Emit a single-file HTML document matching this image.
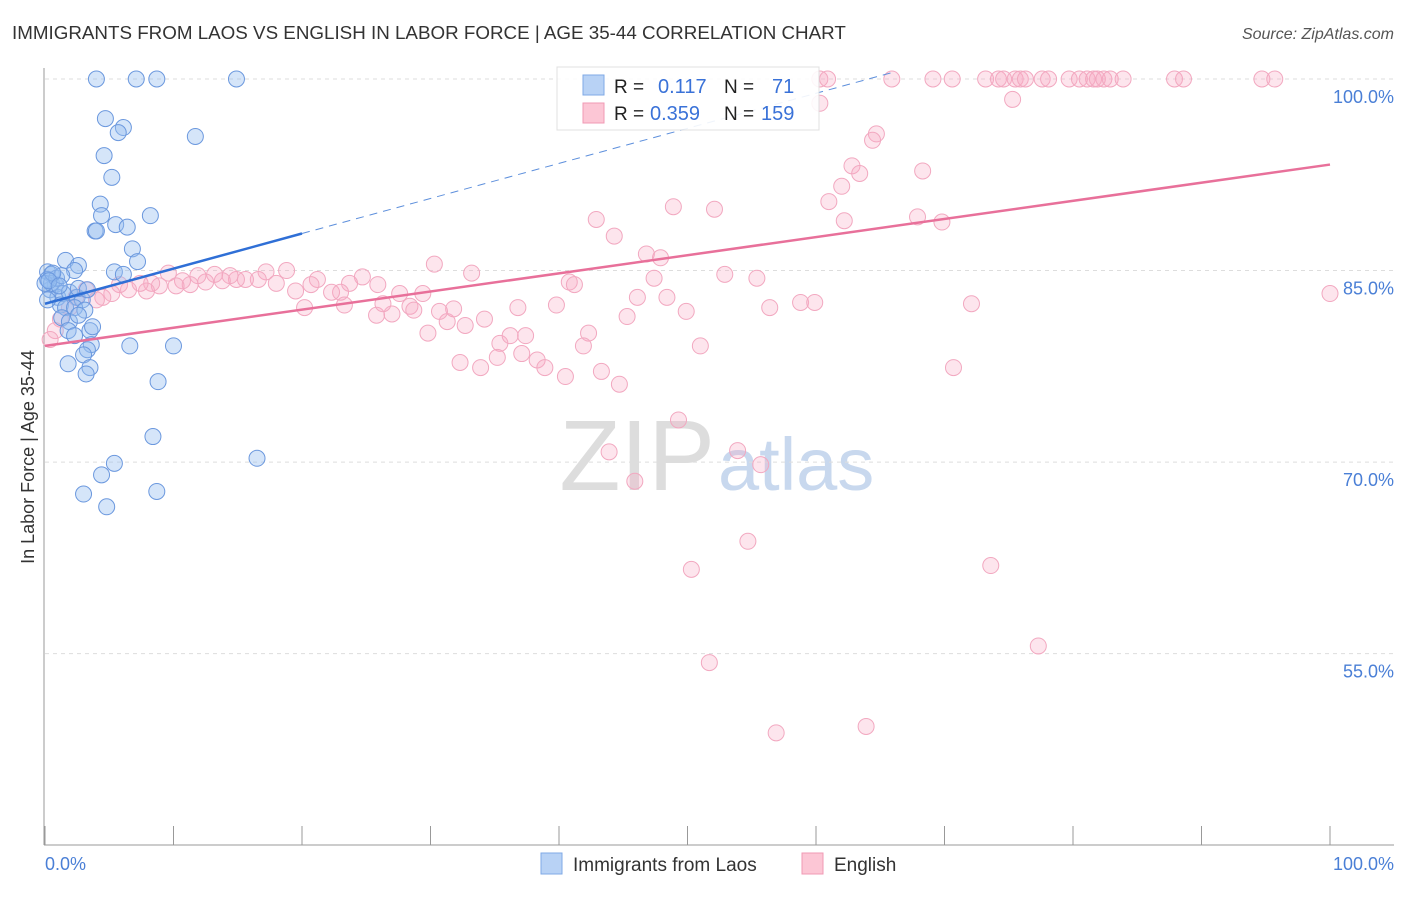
<!DOCTYPE html>
<html><head><meta charset="utf-8"><style>
body{margin:0;background:#fff;font-family:"Liberation Sans",sans-serif}
svg text{font-family:"Liberation Sans",sans-serif}
</style></head><body>
<svg id="chart" width="1406" height="892">
<text x="12" y="39" font-size="18.8" fill="#333">IMMIGRANTS FROM LAOS VS ENGLISH IN LABOR FORCE | AGE 35-44 CORRELATION CHART</text>
<text x="1394" y="39" font-size="16" fill="#555" font-style="italic" text-anchor="end">Source: ZipAtlas.com</text>
<text x="715" y="490" font-size="100" fill="#ddd" text-anchor="end" font-family="Liberation Serif">ZIP</text>
<text x="718" y="490" font-size="74" fill="#c8d8ee">atlas</text>
<g id="grid"></g><g id="axes"></g><g id="pts"></g><g id="trend"></g>
<text transform="translate(34,457) rotate(-90)" font-size="18" fill="#333" text-anchor="middle">In Labor Force | Age 35-44</text>
<text x="45" y="870" font-size="18" fill="#4a7fd6">0.0%</text>
<text x="1394" y="870" font-size="18" fill="#4a7fd6" text-anchor="end">100.0%</text>
<g>
<rect x="557" y="67" width="262" height="63" fill="#fff" stroke="#ddd" opacity="0.9"/>
<rect x="583" y="75" width="21" height="20" fill="#b8d2f5" stroke="#7fa9e6"/>
<rect x="583" y="103" width="21" height="20" fill="#fcc6d5" stroke="#f09ab4"/>
<text x="614" y="93" font-size="19" fill="#222">R = </text><text x="658" y="93" font-size="20" fill="#3a72d8">0.117</text>
<text x="724" y="93" font-size="19" fill="#222">N = </text><text x="772" y="93" font-size="20" fill="#3a72d8">71</text>
<text x="614" y="120" font-size="19" fill="#222">R = </text><text x="650" y="120" font-size="20" fill="#3a72d8">0.359</text>
<text x="724" y="120" font-size="19" fill="#222">N = </text><text x="761" y="120" font-size="20" fill="#3a72d8">159</text>
</g>
<g>
<rect x="541" y="853" width="21" height="21" fill="#b8d2f5" stroke="#7fa9e6"/>
<text x="573" y="871" font-size="19" fill="#333">Immigrants from Laos</text>
<rect x="802" y="853" width="21" height="21" fill="#fcc6d5" stroke="#f09ab4"/>
<text x="834" y="871" font-size="19" fill="#333">English</text>
</g>
</svg>
<script>
const yTicks=[100,85,70,55];
const yTickLabels=["100.0%","85.0%","70.0%","55.0%"];
const xTicks=[0,10,20,30,40,50,60,70,80,90,100];
const blueX=[4.0,7.1,8.7,14.9,4.7,6.1,5.7,4.6,11.7,5.2,4.3,4.4,8.2,5.5,3.9,4.0,6.4,6.8,7.2,1.6,2.6,5.4,6.1,2.3,0.2,0.5,0.8,0.4,1.0,1.4,1.9,2.5,2.9,1.2,1.6,2.3,3.1,2.6,3.3,1.3,1.9,1.8,2.3,3.5,3.7,2.6,3.6,3.3,6.6,10.0,3.0,1.8,3.5,3.2,8.8,8.4,16.5,5.4,4.4,3.0,8.7,4.8,0.2,0.5,0,0.9,1.3,0.2,0.6,0.3,1.1];
const blueY=[100,100,100,100,96.9,96.2,95.8,94.0,95.5,92.3,90.2,89.3,89.3,88.6,88.1,88.1,88.4,86.7,85.7,85.8,85.4,84.9,84.7,85.0,84.9,84.7,83.9,83.5,82.9,83.2,83.3,82.9,82.7,82.3,82.1,82.1,81.9,83.6,83.5,81.3,81.0,80.3,79.9,80.3,80.6,81.5,79.2,78.8,79.1,79.1,78.4,77.7,77.4,76.9,76.3,72.0,70.3,69.9,69.0,67.5,67.7,66.5,84.3,84.0,84.0,84.4,84.6,82.7,84.8,84.2,83.8];
const pinkX=[60.3,60.9,65.9,69.1,70.6,73.2,74.2,74.6,75.5,75.9,76.3,77.6,78.1,79.7,80.5,81.1,81.6,81.9,82.4,82.9,83.9,87.9,88.6,94.7,95.7,60.3,75.3,64.7,64.4,62.8,63.4,62.0,68.3,61.0,62.2,48.9,52.1,42.9,44.3,67.9,69.8,46.8,47.9,30.3,33.2,47.4,52.9,55.4,40.8,41.2,46.1,48.4,49.9,45.3,56.4,58.8,59.9,72.1,100,39.8,36.8,42.3,41.9,51.0,34.2,32.7,31.3,31.8,30.7,29.8,28.4,28.7,27.0,25.8,26.3,27.6,29.4,25.9,24.7,23.7,23.0,22.3,21.2,20.7,20.2,23.3,19.5,18.8,18.0,17.2,16.6,15.6,14.9,14.4,13.8,13.2,12.5,11.9,11.3,10.7,10.2,9.6,8.9,8.3,7.9,7.4,6.5,5.8,5.2,4.5,4.0,3.2,2.4,1.9,1.2,0.8,0.4,35.4,36.2,37.4,35.2,32.3,33.9,37.1,38.3,38.9,40.5,43.3,44.7,70.7,49.3,43.9,53.9,55.7,45.9,54.7,50.3,73.6,77.3,51.7,56.9,63.9];
const pinkY=[100,100,100,100,100,100,100,100,100,100,100,100,100,100,100,100,100,100,100,100,100,100,100,100,100,98.1,98.4,95.7,95.2,93.2,92.6,91.6,92.8,90.4,88.9,90.0,89.8,89.0,87.7,89.2,88.8,86.3,86.0,85.5,84.8,84.4,84.7,84.4,84.1,83.9,82.9,82.9,81.8,81.4,82.1,82.5,82.5,82.4,83.2,82.3,82.1,80.1,79.1,79.1,81.2,80.7,81.0,82.0,81.8,80.1,82.2,81.9,81.6,81.5,82.4,83.2,83.2,83.9,84.5,84.0,83.3,83.3,84.3,83.9,82.1,82.3,83.4,85.0,84.0,84.9,84.3,84.3,84.3,84.6,84.2,84.7,84.1,84.6,83.9,84.2,83.8,84.8,83.8,84.0,83.4,84.0,83.5,83.9,83.2,82.9,82.7,83.5,82.9,82.1,81.2,80.3,79.6,79.3,79.9,79.9,78.2,77.8,77.4,78.5,78.0,77.4,76.7,77.1,76.1,77.4,73.3,70.8,70.9,69.8,68.5,63.8,61.6,61.9,55.6,54.3,48.8,49.3];
const blueTrend=[[0,82.4],[20,87.9]];
const blueDash=[[20,87.9],[65.9,100.5]];
const pinkTrend=[[0,79.1],[100,93.3]];
const NS="http://www.w3.org/2000/svg";
const sx=v=>45+v*12.85, sy=v=>79+(100-v)*12.77;
function mk(tag,attrs,parent){const e=document.createElementNS(NS,tag);for(const k in attrs)e.setAttribute(k,attrs[k]);document.getElementById(parent).appendChild(e);return e;}
yTicks.forEach((t,i)=>{
 const l=mk('line',{x1:45,x2:1394,y1:sy(t),y2:sy(t),stroke:'#ddd','stroke-dasharray':'4,4'},'grid');
 
 
 const tx=mk('text',{x:1394,y:sy(t)+24,'font-size':18,fill:'#4a7fd6','text-anchor':'end'},'grid');tx.textContent=yTickLabels[i];
 
 
});
const ya=mk('line',{x1:44,x2:44,y1:68,y2:845,stroke:'#999'},'axes');


const xa=mk('line',{x1:44,x2:1394,y1:845,y2:845,stroke:'#999'},'axes');


xTicks.forEach(t=>{const l=mk('line',{x1:sx(t),x2:sx(t),y1:826,y2:845,stroke:'#999'},'axes');
 
 });
pinkX.forEach((x,i)=>{const c=mk('circle',{cx:sx(x),cy:sy(pinkY[i]),r:8,fill:'rgba(248,170,195,0.3)',stroke:'#f2a8c0','stroke-width':1},'pts');
 
 });
blueX.forEach((x,i)=>{const c=mk('circle',{cx:sx(x),cy:sy(blueY[i]),r:8,fill:'rgba(150,190,240,0.4)',stroke:'#6b98de','stroke-width':1},'pts');
 
 });
const bt=mk('line',{x1:sx(blueTrend[0][0]),y1:sy(blueTrend[0][1]),x2:sx(blueTrend[1][0]),y2:sy(blueTrend[1][1]),stroke:'#2f6fd6','stroke-width':2.5},'trend');


const bd=mk('line',{x1:sx(blueDash[0][0]),y1:sy(blueDash[0][1]),x2:sx(blueDash[1][0]),y2:sy(blueDash[1][1]),stroke:'#5d8fdc','stroke-width':1,'stroke-dasharray':'8,6'},'trend');


const pt=mk('line',{x1:sx(pinkTrend[0][0]),y1:sy(pinkTrend[0][1]),x2:sx(pinkTrend[1][0]),y2:sy(pinkTrend[1][1]),stroke:'#e8709a','stroke-width':2.5},'trend');


</script>
</body></html>
